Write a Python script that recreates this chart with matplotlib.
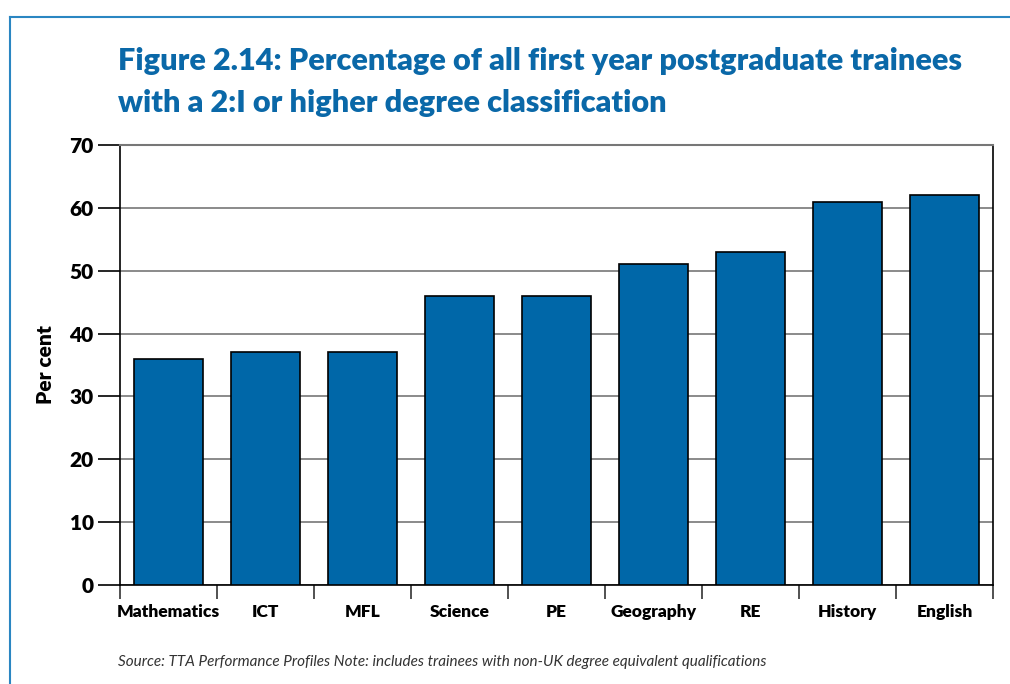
import matplotlib
matplotlib.use("Agg")
import matplotlib.pyplot as plt
from matplotlib.lines import Line2D

categories = ["Mathematics", "ICT", "MFL", "Science", "PE", "Geography", "RE", "History", "English"]
values = [36, 37, 37, 46, 46, 51, 53, 61, 62]
yticks = [0, 10, 20, 30, 40, 50, 60, 70]

plt.rcParams['font.family'] = ['Lato', 'DejaVu Sans']
fig = plt.figure(figsize=(10.10, 6.84), dpi=100)
W, H = 1010, 684

def fx(x): return x / W
def fy(y): return 1 - y / H

# blue frame
frame_col = "#2a86c2"
fig.add_artist(Line2D([fx(10), fx(10)], [fy(17), 0], color=frame_col, lw=1.5, transform=fig.transFigure))
fig.add_artist(Line2D([fx(10), 1], [fy(17), fy(17)], color=frame_col, lw=1.5, transform=fig.transFigure))

title_col = "#0a68a8"
fig.text(fx(118), fy(61), "Figure 2.14: Percentage of all first year postgraduate trainees",
         color=title_col, fontsize=22.1, fontweight='heavy', va='center', ha='left')
fig.text(fx(118), fy(103), "with a 2:I or higher degree classification",
         color=title_col, fontsize=22.1, fontweight='heavy', va='center', ha='left')

ax = fig.add_axes([fx(120), fy(585), fx(993) - fx(120), (585 - 145) / H])
x = range(len(categories))
ax.bar(x, values, width=0.72, color="#0067a8", edgecolor="black", linewidth=1.2, zorder=3)
ax.set_xlim(-0.5, len(categories) - 0.5)
ax.set_ylim(0, 70)
ax.set_yticks(yticks)
ax.set_yticklabels([str(v) for v in yticks], fontsize=15, fontweight='heavy')
ax.yaxis.grid(True, color="#777777", lw=1.2, zorder=0)
ax.tick_params(axis='y', length=16, width=1.2, pad=3, direction='out')

ax.set_xticks([i - 0.5 for i in range(len(categories) + 1)])
ax.set_xticklabels([])
ax.set_xticks(list(x), minor=True)
ax.set_xticklabels(categories, minor=True, fontsize=12.5, fontweight='heavy')
ax.tick_params(axis='x', which='major', length=10, width=1.2, direction='out', color="#333333")
ax.tick_params(axis='x', which='minor', length=0, pad=14)

for s in ['left', 'right', 'bottom']:
    ax.spines[s].set_linewidth(1.2)
    ax.spines[s].set_color('black')
ax.spines['top'].set_color("#777777")
ax.spines['top'].set_linewidth(1.5)
ax.set_axisbelow(True)

ax.set_ylabel("Per cent", fontsize=15, fontweight='heavy', labelpad=10)

fig.text(fx(118), fy(662), "Source: TTA Performance Profiles Note: includes trainees with non-UK degree equivalent qualifications",
         fontsize=11.0, style='italic', color="#333333", va='center', ha='left')

fig.savefig("out.png", dpi=100)
